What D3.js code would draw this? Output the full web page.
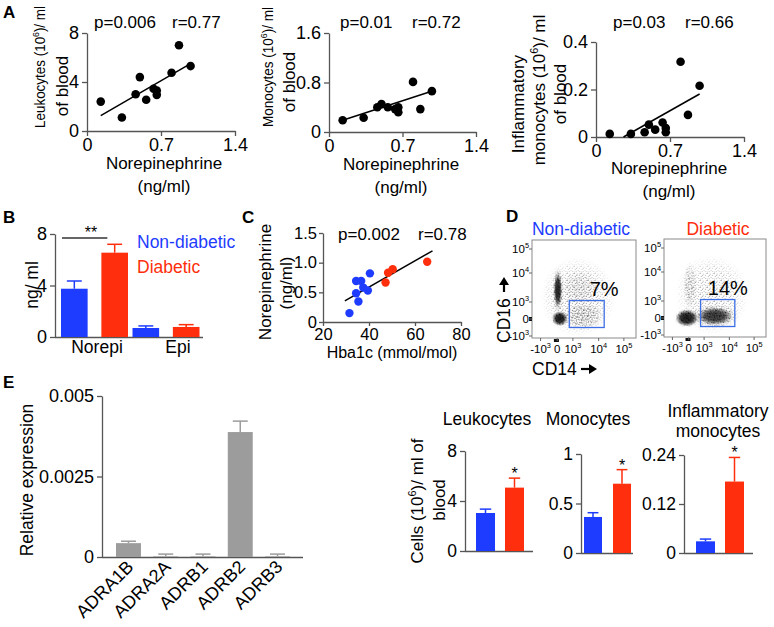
<!DOCTYPE html>
<html><head><meta charset="utf-8">
<script src="https://cdnjs.cloudflare.com/ajax/libs/d3/7.8.5/d3.min.js"></script>
<style>html,body{margin:0;padding:0;background:#fff}svg{display:block}</style>
</head><body>
<svg id="fig" width="774" height="627" xmlns="http://www.w3.org/2000/svg"></svg>
<script>
// ================= DATA =================
// Panel A: norepinephrine (ng/ml) vs cell counts (10^6 / ml blood)
const aNorepi        = [0.13, 0.33, 0.46, 0.50, 0.56, 0.63, 0.66, 0.66, 0.80, 0.87, 0.98];
const aLeukocytes    = [2.4, 1.1, 3.0, 4.4, 2.55, 3.45, 3.3, 2.95, 4.75, 7.0, 5.3];
const aMonocytes     = [0.19, 0.23, 0.40, 0.45, 0.40, 0.37, 0.40, 0.32, 0.81, 0.37, 0.66];
const aInflMonocytes = [0.013, 0.013, 0.02, 0.052, 0.031, 0.061, 0.038, 0.02, 0.317, 0.093, 0.216];
const aLeukFit = [[0.13, 1.25], [0.98, 5.5]];
const aMonoFit = [[0.13, 0.19], [1.0, 0.67]];
const aInflFit = [[0.26, 0.0], [0.98, 0.181]];
const aStats = [["p=0.006", "r=0.77"], ["p=0.01", "r=0.72"], ["p=0.03", "r=0.66"]];
const aXTicks = [0, 0.7, 1.4];
const aLeukTicks = [0, 4, 8];
const aMonoTicks = [0, 0.8, 1.6];
const aInflTicks = [0, 0.2, 0.4];

// Panel B: catecholamines (ng/ml)
const bGroups = ["Norepi", "Epi"];
const bSeries = ["Non-diabetic", "Diabetic"];
const bNonDiabetic = [3.75, 0.70];
const bNonDiabeticSEM = [0.60, 0.16];
const bDiabetic = [6.55, 0.78];
const bDiabeticSEM = [0.65, 0.18];
const bTicks = [0, 4, 8];

// Panel C: Hba1c vs norepinephrine
const cNonDiabeticHba1c = [31.5, 34.4, 34.4, 36.6, 35.4, 37.5, 39.5, 40.4];
const cNonDiabeticNE    = [0.15, 0.485, 0.69, 0.69, 0.345, 0.58, 0.53, 0.82];
const cDiabeticHba1c    = [47.2, 48.3, 50.3, 65.3];
const cDiabeticNE       = [0.665, 0.83, 0.89, 1.015];
const cFit = [[29.5, 0.355], [67.6, 1.2]];
const cStats = ["p=0.002", "r=0.78"];
const cXTicks = [20, 40, 60, 80];
const cYTicks = [0, 0.5, 1.0, 1.5];

// Panel D: flow cytometry (channel in decades: -1=-10^3, 0=0, 1=10^3, 2=10^4, 3=10^5)
const dTickValues = [-1, 0, 1, 2, 3];
const dTickLabels = [["-10", "3"], ["0", ""], ["10", "3"], ["10", "4"], ["10", "5"]];
const dGroups = ["Non-diabetic", "Diabetic"];
const dPercent = ["7%", "14%"];
const dGateCD14 = [0.77, 2.22];
const dGateCD16 = [-0.5, 1.05];
const dNonDiabeticClusters = [
  {cd14: [-0.73, 2.48], cd16: [-0.76, 2.46], density: 0.35},
  {cd14: [0.45, 1.9], cd16: [1.0, 2.0], density: 0.3},
  {cd14: [0.5, 2.1], cd16: [-0.55, 0.85], density: 0.6},
  {cd14: [-0.25, 0.35], cd16: [0.5, 2.15], density: 0.95},
  {cd14: [-0.3, 0.65], cd16: [-0.4, 0.45], density: 1.0}
];
const dDiabeticClusters = [
  {cd14: [-0.55, 2.6], cd16: [-0.7, 2.5], density: 0.3},
  {cd14: [-0.3, 0.45], cd16: [0.7, 2.3], density: 0.5},
  {cd14: [0.35, 2.25], cd16: [-0.5, 0.72], density: 0.85},
  {cd14: [-0.8, 0.6], cd16: [-0.5, 0.5], density: 1.0}
];

// Panel E: adrenergic receptor expression
const eGenes = ["ADRA1B", "ADRA2A", "ADRB1", "ADRB2", "ADRB3"];
const eExpression = [0.00043, 0.00002, 0.00002, 0.00388, 0.00002];
const eSEM = [0.00006, 0.00007, 0.00007, 0.00034, 0.00007];
const eTicks = [0, 0.0025, 0.005];

// Bottom-right: cell counts (10^6 / ml blood)
const fTitles = [["Leukocytes"], ["Monocytes"], ["Inflammatory", "monocytes"]];
const fNonDiabetic = [3.04, 0.364, 0.0286];
const fNonDiabeticSEM = [0.31, 0.043, 0.0055];
const fDiabetic = [5.07, 0.70, 0.175];
const fDiabeticSEM = [0.76, 0.142, 0.059];
const fTicks = [[0, 4, 8], [0, 0.5, 1], [0, 0.12, 0.24]];
const fStars = ["*", "*", "*"];

// ================= DRAWING =================
const FONT = '"Liberation Sans", Arial, Helvetica, sans-serif';
const BLUE = "#1e3cff", RED = "#ff2e0c", GRAY = "#9c9c9c", AX = "#555";
const svg = d3.select("#fig");
svg.append("rect").attr("width", 774).attr("height", 627).attr("fill", "#fff");
const defs = svg.append("defs");

function txt(parent, x, y, parts, o = {}) {
  const size = o.size || 17;
  const t = parent.append("text")
    .attr("transform", `translate(${x},${y})` + (o.rotate ? ` rotate(${o.rotate})` : ""))
    .attr("text-anchor", o.anchor || "start")
    .attr("font-family", FONT).attr("font-size", size)
    .attr("font-weight", o.weight || "normal")
    .attr("fill", o.fill || "#000");
  if (o.dy) t.attr("dy", o.dy);
  if (o.len) t.attr("textLength", o.len).attr("lengthAdjust", "spacingAndGlyphs");
  const arr = typeof parts === "string" ? [[parts, false]] : parts;
  let raised = false;
  arr.forEach(([s, sup]) => {
    if (!s) return;
    const sp = t.append("tspan").text(s);
    if (sup && !raised) { sp.attr("font-size", size * 0.64).attr("dy", -size * 0.42); raised = true; }
    else if (!sup && raised) { sp.attr("dy", size * 0.42); raised = false; }
  });
  return t;
}
function styleAxis(g, size) {
  g.attr("font-family", FONT).attr("font-size", size);
  g.select(".domain").attr("stroke", AX).attr("stroke-width", 1.3);
  g.selectAll(".tick line").attr("stroke", AX).attr("stroke-width", 1.3);
  g.selectAll(".tick text").attr("fill", "#000");
}
const fmt0 = d => d === 0 ? "0" : String(d);

function scatter(o) {
  const x = d3.scaleLinear().domain(o.xDom).range([o.x0, o.x1]);
  const y = d3.scaleLinear().domain(o.yDom).range([o.yBot, o.yTop]);
  const g = svg.append("g");
  const ts = o.tick || 5, tp = o.pad == null ? 3 : o.pad;
  const ya = g.append("g").attr("transform", `translate(${o.x0},0)`)
    .call(d3.axisLeft(y).tickValues(o.yTicks).tickFormat(o.yFmt || fmt0).tickSize(ts).tickSizeOuter(0).tickPadding(tp));
  styleAxis(ya, o.fs);
  const xa = g.append("g").attr("transform", `translate(0,${o.yBot})`)
    .call(d3.axisBottom(x).tickValues(o.xTicks).tickFormat(o.xFmt || fmt0).tickSize(ts).tickSizeOuter(0).tickPadding(2));
  styleAxis(xa, o.fs);
  g.append("line").attr("x1", x(o.fit[0][0])).attr("y1", y(o.fit[0][1]))
    .attr("x2", x(o.fit[1][0])).attr("y2", y(o.fit[1][1]))
    .attr("stroke", "#000").attr("stroke-width", 1.5);
  o.series.forEach(s => {
    g.selectAll(null).data(d3.zip(s.xs, s.ys)).join("circle")
      .attr("cx", d => x(d[0])).attr("cy", d => y(d[1])).attr("r", o.r || 4).attr("fill", s.color);
  });
  return {x, y, g};
}

// ---------- Panel A ----------
txt(svg, 3, 18, "A", {size: 17, weight: "bold"});
const aPanels = [
  {x0: 87, x1: 235, yTop: 33, yBot: 131, yDom: [0, 8], yTicks: aLeukTicks, fit: aLeukFit},
  {x0: 329, x1: 476, yTop: 33, yBot: 132, yDom: [0, 1.6], yTicks: aMonoTicks, fit: aMonoFit},
  {x0: 596, x1: 744, yTop: 42, yBot: 137, yDom: [0, 0.4], yTicks: aInflTicks, fit: aInflFit}
];
const aYs = [aLeukocytes, aMonocytes, aInflMonocytes];
aPanels.forEach((p, i) => {
  scatter({...p, xDom: [0, 1.4], xTicks: aXTicks, fs: 18, r: 4.3,
    series: [{xs: aNorepi, ys: aYs[i], color: "#000"}]});
});
[[94, 172, 28], [340, 412, 28], [613, 685, 28]].forEach((pos, i) => {
  txt(svg, pos[0], pos[2], aStats[i][0], {size: 17});
  txt(svg, pos[1], pos[2], aStats[i][1], {size: 17});
});
[[164, 169], [401, 170], [669, 174]].forEach(p => {
  txt(svg, p[0], p[1], "Norepinephrine", {size: 17, anchor: "middle"});
  txt(svg, p[0], p[1] + 23, "(ng/ml)", {size: 17, anchor: "middle"});
});
const supLabel = name => [[name + " (10", false], ["6", true], [")/ ml", false]];
txt(svg, 40, 67, supLabel("Leukocytes"), {size: 15.5, anchor: "middle", rotate: -90, dy: "0.35em", len: 122});
txt(svg, 62, 86, "of blood", {size: 17, anchor: "middle", rotate: -90, dy: "0.35em"});
txt(svg, 268, 67, supLabel("Monocytes"), {size: 15.5, anchor: "middle", rotate: -90, dy: "0.35em", len: 120});
txt(svg, 289, 82, "of blood", {size: 17, anchor: "middle", rotate: -90, dy: "0.35em"});
txt(svg, 518, 104, "Inflammatory", {size: 17, anchor: "middle", rotate: -90, dy: "0.35em"});
txt(svg, 539, 90, supLabel("monocytes"), {size: 17, anchor: "middle", rotate: -90, dy: "0.35em"});
txt(svg, 560, 94, "of blood", {size: 17, anchor: "middle", rotate: -90, dy: "0.35em"});

// ---------- Panel B ----------
txt(svg, 3, 223, "B", {size: 17, weight: "bold"});
{
  const y = d3.scaleLinear().domain([0, 8]).range([337, 234]);
  const gx = d3.scalePoint().domain(bGroups).range([94.5, 166]);
  const sx = d3.scaleBand().domain(bSeries).range([-33.5, 33.5]).paddingInner(0.34);
  const g = svg.append("g");
  const ya = g.append("g").attr("transform", "translate(55,0)")
    .call(d3.axisLeft(y).tickValues(bTicks).tickSize(5).tickSizeOuter(0).tickPadding(3));
  styleAxis(ya, 18);
  g.append("line").attr("x1", 55).attr("x2", 203).attr("y1", 337.5).attr("y2", 337.5).attr("stroke", AX).attr("stroke-width", 1.3);
  const vals = [bNonDiabetic, bDiabetic], sems = [bNonDiabeticSEM, bDiabeticSEM], cols = [BLUE, RED];
  bSeries.forEach((s, si) => {
    bGroups.forEach((grp, gi) => {
      const x0 = gx(grp) + sx(s), w = sx.bandwidth(), v = vals[si][gi], e = sems[si][gi];
      const cx = x0 + w / 2;
      g.append("line").attr("x1", cx).attr("x2", cx).attr("y1", y(v)).attr("y2", y(v + e)).attr("stroke", cols[si]).attr("stroke-width", 1.5);
      g.append("line").attr("x1", cx - w * 0.28).attr("x2", cx + w * 0.28).attr("y1", y(v + e)).attr("y2", y(v + e)).attr("stroke", cols[si]).attr("stroke-width", 1.5);
      g.append("rect").attr("x", x0).attr("y", y(v)).attr("width", w).attr("height", y(0) - y(v)).attr("fill", cols[si]);
    });
  });
  const nx = gx("Norepi");
  g.append("line").attr("x1", nx + sx(bSeries[0]) + 1).attr("x2", nx + sx(bSeries[1]) + 6).attr("y1", 238).attr("y2", 238).attr("stroke", "#333").attr("stroke-width", 1.5);
  txt(g, 91, 238, "**", {size: 16, anchor: "middle"});
  txt(g, 97, 353, bGroups[0], {size: 17.5, anchor: "middle"});
  txt(g, 178, 353, bGroups[1], {size: 17.5, anchor: "middle"});
  txt(g, 137, 248, bSeries[0], {size: 17.5, fill: BLUE});
  txt(g, 137, 273, bSeries[1], {size: 17.5, fill: RED});
  txt(g, 32, 285, "ng/ ml", {size: 17.5, anchor: "middle", rotate: -90, dy: "0.35em"});
}

// ---------- Panel C ----------
txt(svg, 242, 223, "C", {size: 17, weight: "bold"});
scatter({x0: 323, x1: 461, yTop: 233, yBot: 322, xDom: [20, 80], yDom: [0, 1.5],
  xTicks: cXTicks, yTicks: cYTicks, yFmt: d => d === 0 ? "0" : d.toFixed(1), fs: 16.5, tick: 4, pad: 2, r: 4.2, fit: cFit,
  series: [{xs: cNonDiabeticHba1c, ys: cNonDiabeticNE, color: BLUE}, {xs: cDiabeticHba1c, ys: cDiabeticNE, color: RED}]});
txt(svg, 338, 240, cStats[0], {size: 17});
txt(svg, 418, 240, cStats[1], {size: 17});
txt(svg, 265, 282, "Norepinephrine", {size: 17, anchor: "middle", rotate: -90, dy: "0.35em"});
txt(svg, 286, 283, "(ng/ml)", {size: 17, anchor: "middle", rotate: -90, dy: "0.35em"});
txt(svg, 392, 358, "Hba1c (mmol/mol)", {size: 16, anchor: "middle"});

// ---------- Panel D ----------
txt(svg, 506, 222, "D", {size: 17, weight: "bold"});
{
  const fw = defs.append("radialGradient").attr("id", "fadeW");
  fw.append("stop").attr("offset", "0%").attr("stop-color", "#fff").attr("stop-opacity", 1);
  fw.append("stop").attr("offset", "55%").attr("stop-color", "#fff").attr("stop-opacity", 0.75);
  fw.append("stop").attr("offset", "100%").attr("stop-color", "#fff").attr("stop-opacity", 0);
  const fb = defs.append("radialGradient").attr("id", "fadeK");
  fb.append("stop").attr("offset", "0%").attr("stop-color", "#000").attr("stop-opacity", 0.97);
  fb.append("stop").attr("offset", "55%").attr("stop-color", "#000").attr("stop-opacity", 0.85);
  fb.append("stop").attr("offset", "100%").attr("stop-color", "#000").attr("stop-opacity", 0);
  const dots = [[0.5, 0.5], [3.2, 1.1], [5.4, 2.3], [1.3, 3.4], [4.1, 4.6], [2.2, 5.6], [5.8, 5.5], [2.6, 2.4], [0.2, 6.1], [6.3, 0.3]];
  for (let k = 0; k < 5; k++) {
    const pat = defs.append("pattern").attr("id", "stip" + k).attr("patternUnits", "userSpaceOnUse")
      .attr("width", 7).attr("height", 7).attr("patternTransform", `translate(${k * 2.3},${k * 1.7}) rotate(${k * 29})`);
    dots.forEach(d => pat.append("circle").attr("cx", d[0]).attr("cy", d[1]).attr("r", 0.62).attr("fill", "#000"));
  }
  const frames = [[532, 240, 104, 98], [664, 239, 102, 98]];
  const clusters = [dNonDiabeticClusters, dDiabeticClusters];
  const titleCols = [BLUE, RED];
  frames.forEach((f, fi) => {
    const [fx, fy, w, h] = f;
    const x = d3.scaleLinear().domain(dTickValues).range([8.5, 25, 40.5, 66, 91].map(v => fx + v * w / 103));
    const y = d3.scaleLinear().domain(dTickValues).range([96, 79, 62, 33, 9].map(v => fy + v));
    const g = svg.append("g");
    clusters[fi].forEach((c, ci) => {
      const cx = (x(c.cd14[0]) + x(c.cd14[1])) / 2, cy = (y(c.cd16[0]) + y(c.cd16[1])) / 2;
      const rx = Math.abs(x(c.cd14[1]) - x(c.cd14[0])) / 2, ry = Math.abs(y(c.cd16[1]) - y(c.cd16[0])) / 2;
      const mid = `m${fi}_${ci}`;
      defs.append("mask").attr("id", mid).attr("maskUnits", "userSpaceOnUse")
        .attr("x", fx).attr("y", fy).attr("width", w).attr("height", h)
        .append("ellipse").attr("cx", cx).attr("cy", cy).attr("rx", rx * 1.15).attr("ry", ry * 1.15)
        .attr("fill", "url(#fadeW)").attr("opacity", Math.min(1, c.density * 1.1));
      g.append("rect").attr("x", fx).attr("y", fy).attr("width", w).attr("height", h)
        .attr("fill", `url(#stip${ci % 5})`).attr("mask", `url(#${mid})`);
      if (c.density >= 0.85) {
        g.append("ellipse").attr("cx", cx).attr("cy", cy).attr("rx", rx * (c.density >= 1 ? 1.0 : 0.85)).attr("ry", ry * (c.density >= 1 ? 1.0 : 0.85))
          .attr("fill", "url(#fadeK)").attr("opacity", c.density * 0.92);
      }
    });
    g.append("rect").attr("x", fx).attr("y", fy).attr("width", w).attr("height", h)
      .attr("fill", "none").attr("stroke", "#8a8a8a").attr("stroke-width", 1);
    g.append("rect").attr("x", x(-0.2)).attr("y", fy + h + 1).attr("width", 5).attr("height", 3).attr("fill", "#111");
    g.append("rect").attr("x", fx - 3).attr("y", y(0) - 2).attr("width", 3).attr("height", 4).attr("fill", "#111");
    dTickValues.forEach((v, i) => {
      g.append("line").attr("x1", x(v)).attr("x2", x(v)).attr("y1", fy + h).attr("y2", fy + h + 3).attr("stroke", "#666");
      g.append("line").attr("x1", fx - 3).attr("x2", fx).attr("y1", y(v)).attr("y2", y(v)).attr("stroke", "#666");
      const lab = [[dTickLabels[i][0], false], [dTickLabels[i][1], true]];
      txt(g, x(v), fy + h + 15, lab, {size: 11.5, anchor: "middle"});
      txt(g, fx - 3, y(v) + 4, lab, {size: 11.5, anchor: "end"});
    });
    g.append("rect").attr("x", x(dGateCD14[0])).attr("y", y(dGateCD16[1]))
      .attr("width", x(dGateCD14[1]) - x(dGateCD14[0])).attr("height", y(dGateCD16[0]) - y(dGateCD16[1]))
      .attr("fill", "none").attr("stroke", "#3d6fe6").attr("stroke-width", 1.3);
    txt(g, x(dGateCD14[1]) - (fi ? 7 : 0), y(dGateCD16[1]) - 5, dPercent[fi], {size: 20, anchor: "middle"});
    txt(g, fx + w / 2 - (fi ? -3 : 3), 235, dGroups[fi], {size: 17.5, anchor: "middle", fill: titleCols[fi]});
  });
  txt(svg, 532, 375, "CD14", {size: 17.5});
  svg.append("path").attr("d", "M581,369 L593,369").attr("stroke", "#000").attr("stroke-width", 2.2);
  svg.append("path").attr("d", "M589,364 L597,369 L589,374 Z").attr("fill", "#000");
  txt(svg, 510, 343, "CD16", {size: 17.5, rotate: -90});
  svg.append("path").attr("d", "M504,292 L504,281").attr("stroke", "#000").attr("stroke-width", 2.2);
  svg.append("path").attr("d", "M499,285 L504,277 L509,285 Z").attr("fill", "#000");
}

// ---------- Panel E ----------
txt(svg, 3, 388, "E", {size: 17, weight: "bold"});
{
  const x = d3.scaleBand().domain(eGenes).range([116, 290]).paddingInner(0.33);
  const y = d3.scaleLinear().domain([0, 0.005]).range([557, 396]);
  const g = svg.append("g");
  const ya = g.append("g").attr("transform", "translate(102,0)")
    .call(d3.axisLeft(y).tickValues(eTicks).tickFormat(fmt0).tickSize(5).tickSizeOuter(0).tickPadding(3));
  styleAxis(ya, 18);
  g.append("line").attr("x1", 102).attr("x2", 303).attr("y1", 557.5).attr("y2", 557.5).attr("stroke", AX).attr("stroke-width", 1.3);
  eGenes.forEach((gn, i) => {
    const x0 = x(gn), w = x.bandwidth(), cx = x0 + w / 2, v = eExpression[i], e = eSEM[i];
    g.append("line").attr("x1", cx).attr("x2", cx).attr("y1", y(v)).attr("y2", y(v + e)).attr("stroke", GRAY).attr("stroke-width", 1.5);
    g.append("line").attr("x1", cx - w * 0.3).attr("x2", cx + w * 0.3).attr("y1", y(v + e)).attr("y2", y(v + e)).attr("stroke", GRAY).attr("stroke-width", 1.5);
    g.append("rect").attr("x", x0).attr("y", y(v)).attr("width", w).attr("height", y(0) - y(v)).attr("fill", GRAY);
    txt(g, cx + 6, 568, gn, {size: 18, anchor: "end", rotate: -45});
  });
  txt(g, 27, 480, "Relative expression", {size: 17.5, anchor: "middle", rotate: -90, dy: "0.35em"});
}

// ---------- Bottom-right bars ----------
{
  const lay = [
    {ax: 465, end: 533, top: 451, bot: 551, b: 476, r: 505, w: 19},
    {ax: 581, end: 633, top: 454, bot: 553, b: 584, r: 613, w: 18},
    {ax: 684, end: 753, top: 455, bot: 553, b: 696, r: 725, w: 19}
  ];
  const titleCx = [487, 588, 718];
  lay.forEach((L, i) => {
    const ticks = fTicks[i];
    const y = d3.scaleLinear().domain([0, ticks[ticks.length - 1]]).range([L.bot, L.top]);
    const g = svg.append("g");
    const ya = g.append("g").attr("transform", `translate(${L.ax},0)`)
      .call(d3.axisLeft(y).tickValues(ticks).tickFormat(fmt0).tickSize(5).tickSizeOuter(0).tickPadding(3));
    styleAxis(ya, 17.5);
    g.append("line").attr("x1", L.ax).attr("x2", L.end).attr("y1", L.bot + 0.5).attr("y2", L.bot + 0.5).attr("stroke", AX).attr("stroke-width", 1.3);
    [[L.b, fNonDiabetic[i], fNonDiabeticSEM[i], BLUE], [L.r, fDiabetic[i], fDiabeticSEM[i], RED]].forEach(([x0, v, e, c]) => {
      const cx = x0 + L.w / 2;
      g.append("line").attr("x1", cx).attr("x2", cx).attr("y1", y(v)).attr("y2", y(v + e)).attr("stroke", c).attr("stroke-width", 1.5);
      g.append("line").attr("x1", cx - L.w * 0.3).attr("x2", cx + L.w * 0.3).attr("y1", y(v + e)).attr("y2", y(v + e)).attr("stroke", c).attr("stroke-width", 1.5);
      g.append("rect").attr("x", x0).attr("y", y(v)).attr("width", L.w).attr("height", y(0) - y(v)).attr("fill", c);
    });
    const sx = L.r + L.w / 2, sy = y(fDiabetic[i] + fDiabeticSEM[i]) + 1;
    txt(g, sx, sy, fStars[i], {size: 16, anchor: "middle"});
    const t = fTitles[i];
    if (t.length === 1) txt(g, titleCx[i], 425, t[0], {size: 17.5, anchor: "middle"});
    else { txt(g, titleCx[i], 417, t[0], {size: 17.5, anchor: "middle"}); txt(g, titleCx[i], 437, t[1], {size: 17.5, anchor: "middle"}); }
  });
  txt(svg, 417, 501, [["Cells (10", false], ["6", true], [")/ ml of", false]], {size: 17, anchor: "middle", rotate: -90, dy: "0.35em"});
  txt(svg, 439, 500, "blood", {size: 17, anchor: "middle", rotate: -90, dy: "0.35em"});
}
</script>
</body></html>
